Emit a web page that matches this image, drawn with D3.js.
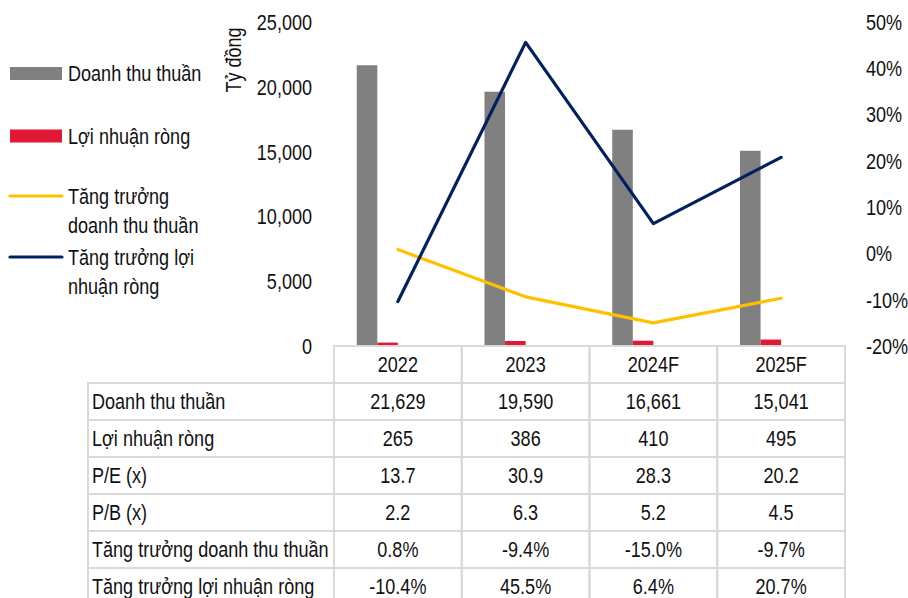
<!DOCTYPE html>
<html>
<head>
<meta charset="utf-8">
<script src="https://cdn.jsdelivr.net/npm/d3@7"></script>
<style>
  body { margin: 0; background: #fff; }
  svg text { font-family: 'Liberation Sans', Arial, sans-serif; font-size: 22px; fill: #111; }
</style>
</head>
<body>
<svg id="chart" width="908" height="598"></svg>
<script>
'use strict';

var categories = ['2022', '2023', '2024F', '2025F'];
var revenue = [21629, 19590, 16661, 15041];
var netProfit = [265, 386, 410, 495];
var peRatio = [13.7, 30.9, 28.3, 20.2];
var pbRatio = [2.2, 6.3, 5.2, 4.5];
var revenueGrowth = [0.8, -9.4, -15.0, -9.7];
var profitGrowth = [-10.4, 45.5, 6.4, 20.7];
var leftTicks = [0, 5000, 10000, 15000, 20000, 25000];
var rightTicks = [-20, -10, 0, 10, 20, 30, 40, 50];

var colors = {
  revenue: '#808080',
  profit: '#e31837',
  revGrowth: '#ffc000',
  profitGrowth: '#002060',
  grid: '#d9d9d9'
};

var locale = d3.formatLocale({ decimal: '.', thousands: ',', grouping: [3], currency: ['', ''], minus: '-' }),
    fmtInt = locale.format(','),
    fmt1 = locale.format('.1f'),
    fmtPct = function (v) { return fmt1(v) + '%'; };

var svg = d3.select('#chart'),
    plot = { left: 334, right: 845, top: 21.5, bottom: 346 },
    rowH = 37,
    narrow = 0.82;

// no narrow font installed: squeeze each text horizontally
function condense(sel) {
  sel.each(function () {
    var w = this.getComputedTextLength();
    d3.select(this).attr('textLength', w * narrow).attr('lengthAdjust', 'spacingAndGlyphs');
  });
}

var x = d3.scaleBand().domain(categories).range([plot.left, plot.right]),
    bw = x.bandwidth(),
    // four slots per category, only the first two carry bars
    sub = d3.scaleBand().domain(['rev', 'profit', 'e1', 'e2']).range([bw * 0.178, bw * 0.822]),
    yLeft = d3.scaleLinear().domain([0, 25000]).range([plot.bottom, plot.top]),
    yRight = d3.scaleLinear().domain([-20, 50]).range([plot.bottom, plot.top]);

// bars
var barG = svg.append('g');
barG.selectAll('rect.rev').data(revenue).enter().append('rect')
  .attr('class', 'rev')
  .attr('x', function (d, i) { return x(categories[i]) + sub('rev'); })
  .attr('y', function (d) { return yLeft(d); })
  .attr('width', sub.bandwidth())
  .attr('height', function (d) { return yLeft(0) - yLeft(d); })
  .attr('fill', colors.revenue);

barG.selectAll('rect.profit').data(netProfit).enter().append('rect')
  .attr('class', 'profit')
  .attr('x', function (d, i) { return x(categories[i]) + sub('profit'); })
  .attr('y', function (d) { return yLeft(d); })
  .attr('width', sub.bandwidth())
  .attr('height', function (d) { return yLeft(0) - yLeft(d); })
  .attr('fill', colors.profit);

// lines
function drawLine(values, color) {
  var line = d3.line()
    .x(function (d, i) { return x(categories[i]) + bw / 2; })
    .y(function (d) { return yRight(d); });
  svg.append('path').datum(values)
    .attr('d', line)
    .attr('fill', 'none')
    .attr('stroke', color)
    .attr('stroke-width', 3.2)
    .attr('stroke-linecap', 'round')
    .attr('stroke-linejoin', 'round');
}
drawLine(revenueGrowth, colors.revGrowth);
drawLine(profitGrowth, colors.profitGrowth);

// axes
var leftAxis = d3.axisLeft(yLeft).tickValues(leftTicks).tickSize(0).tickPadding(0).tickFormat(fmtInt);
var gl = svg.append('g').attr('transform', 'translate(312,0)').call(leftAxis);
gl.select('.domain').remove();
gl.selectAll('text').attr('font-size', null).attr('font-family', null).attr('dy', '0.35em').call(condense);

var rightAxis = d3.axisRight(yRight).tickValues(rightTicks).tickSize(0).tickPadding(0).tickFormat(function (d) { return d + '%'; });
var gr = svg.append('g').attr('transform', 'translate(866,0)').call(rightAxis);
gr.select('.domain').remove();
gr.selectAll('text').attr('font-size', null).attr('font-family', null).attr('dy', '0.35em').call(condense);

svg.append('text')
  .attr('transform', 'translate(241,60) rotate(-90)')
  .attr('text-anchor', 'middle')
  .text('Tỷ đồng')
  .call(condense);

// legend
var legend = [
  { type: 'rect', color: colors.revenue, lines: ['Doanh thu thuần'], y: 73.5 },
  { type: 'rect', color: colors.profit, lines: ['Lợi nhuận ròng'], y: 136 },
  { type: 'line', color: colors.revGrowth, lines: ['Tăng trưởng', 'doanh thu thuần'], y: 196 },
  { type: 'line', color: colors.profitGrowth, lines: ['Tăng trưởng lợi', 'nhuận ròng'], y: 257 }
];
var lg = svg.append('g');
legend.forEach(function (d) {
  if (d.type === 'rect') {
    lg.append('rect').attr('x', 10).attr('y', d.y - 6.5).attr('width', 52).attr('height', 13).attr('fill', d.color);
  } else {
    lg.append('line').attr('x1', 10).attr('x2', 62).attr('y1', d.y).attr('y2', d.y)
      .attr('stroke', d.color).attr('stroke-width', 3.2).attr('stroke-linecap', 'round');
  }
  d.lines.forEach(function (t, k) {
    lg.append('text').attr('x', 68).attr('y', d.y + k * 29).attr('dy', '0.35em').text(t).call(condense);
  });
});

// table
var rows = [
  { label: 'Doanh thu thuần', values: revenue, fmt: fmtInt },
  { label: 'Lợi nhuận ròng', values: netProfit, fmt: fmtInt },
  { label: 'P/E (x)', values: peRatio, fmt: fmt1 },
  { label: 'P/B (x)', values: pbRatio, fmt: fmt1 },
  { label: 'Tăng trưởng doanh thu thuần', values: revenueGrowth, fmt: fmtPct },
  { label: 'Tăng trưởng lợi nhuận ròng', values: profitGrowth, fmt: fmtPct }
];
var tableLeft = 88,
    tbl = svg.append('g');

// header cells
categories.forEach(function (c) {
  tbl.append('rect').attr('x', x(c)).attr('y', plot.bottom).attr('width', bw).attr('height', rowH)
    .attr('fill', 'none').attr('stroke', colors.grid).attr('stroke-width', 2);
  tbl.append('text').attr('x', x(c) + bw / 2).attr('y', plot.bottom + rowH / 2).attr('dy', '0.35em')
    .attr('text-anchor', 'middle').text(c).call(condense);
});

rows.forEach(function (r, i) {
  var top = plot.bottom + rowH * (i + 1);
  tbl.append('rect').attr('x', tableLeft).attr('y', top).attr('width', plot.left - tableLeft).attr('height', rowH)
    .attr('fill', 'none').attr('stroke', colors.grid).attr('stroke-width', 2);
  tbl.append('text').attr('x', tableLeft + 4).attr('y', top + rowH / 2).attr('dy', '0.35em').text(r.label).call(condense);
  r.values.forEach(function (v, j) {
    var c = categories[j];
    tbl.append('rect').attr('x', x(c)).attr('y', top).attr('width', bw).attr('height', rowH)
      .attr('fill', 'none').attr('stroke', colors.grid).attr('stroke-width', 2);
    tbl.append('text').attr('x', x(c) + bw / 2).attr('y', top + rowH / 2).attr('dy', '0.35em')
      .attr('text-anchor', 'middle').text(r.fmt(v)).call(condense);
  });
});
</script>
</body>
</html>
